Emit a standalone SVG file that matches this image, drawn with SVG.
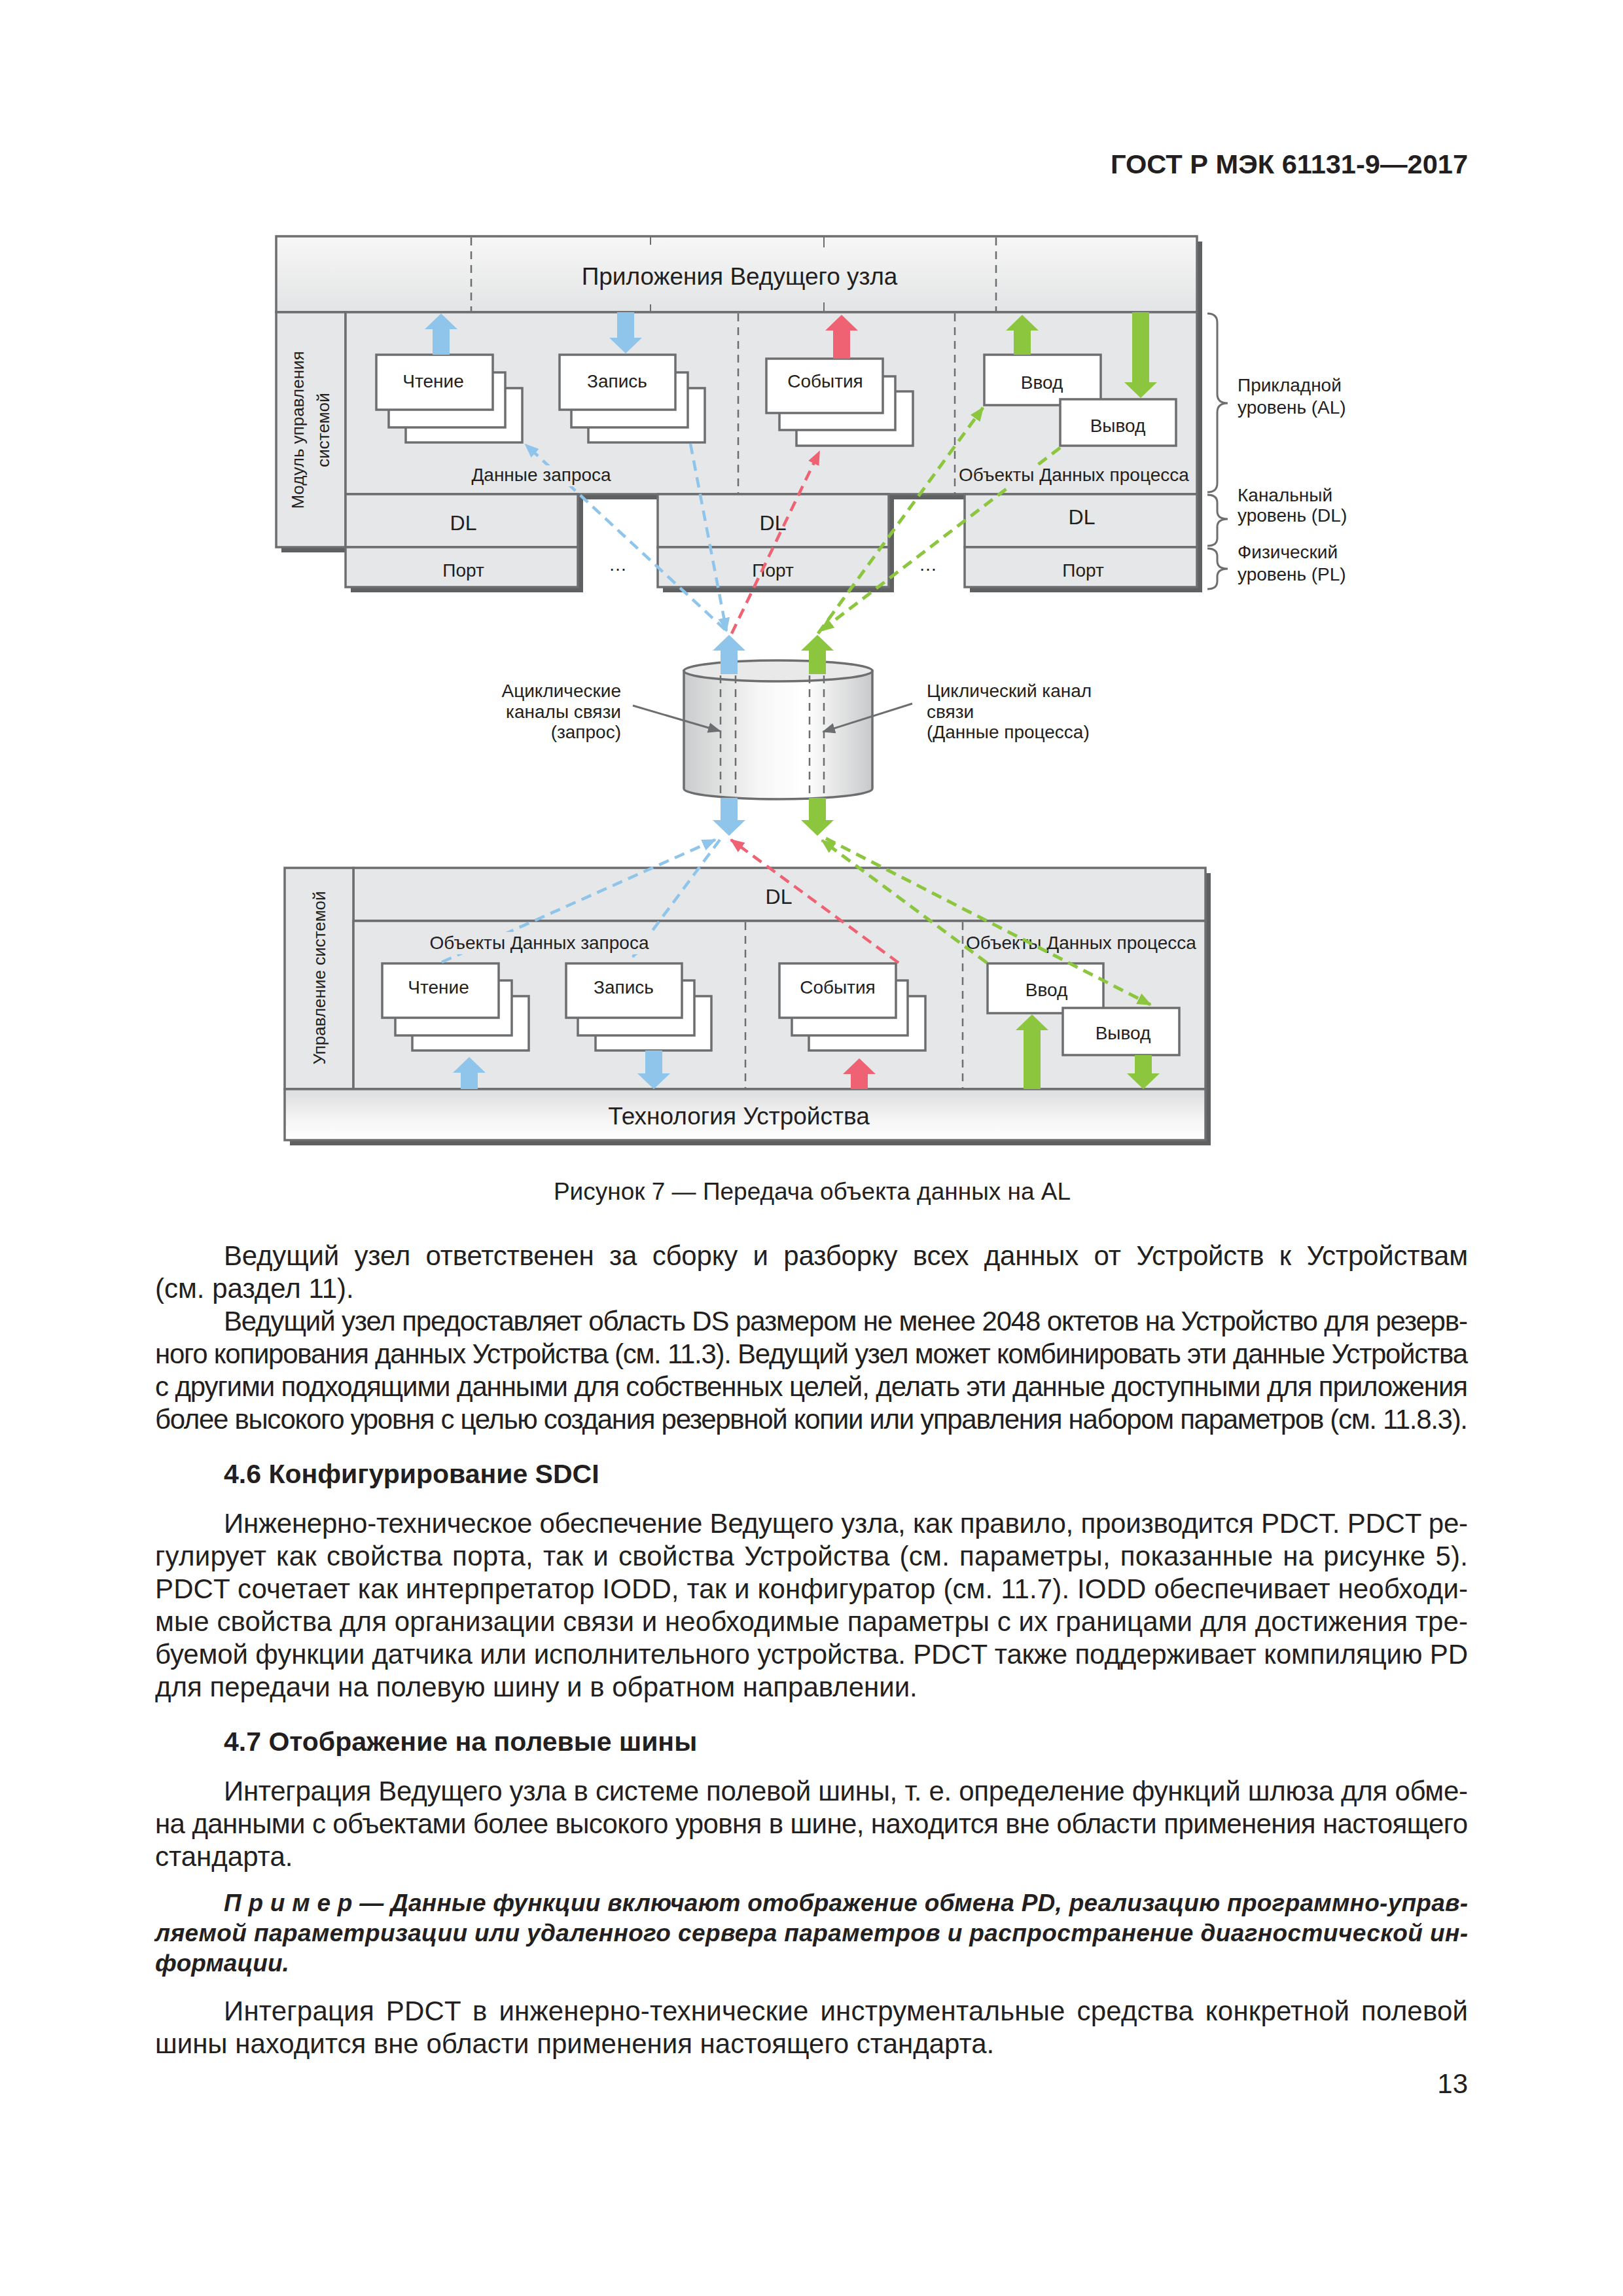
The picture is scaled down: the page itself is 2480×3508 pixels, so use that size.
<svg xmlns="http://www.w3.org/2000/svg" width="2480" height="3508" viewBox="0 0 2480 3508">
<style>
.bg{fill:#ffffff}
.box{fill:#e6e7e8;stroke:#6d6e70;stroke-width:3.5}
.sh{fill:#5f6062}
.card{fill:#ffffff;stroke:#6d6e70;stroke-width:3.5}
.lblbg{fill:#e6e7e8}
.t{font-family:"Liberation Sans",Arial,sans-serif;fill:#231f20}
.d28{font-size:28px}
.d26{font-size:26px}
.d32{font-size:32px}
.d37{font-size:37px}
.mid{text-anchor:middle}
.end{text-anchor:end}
.sep{stroke:#6d6e70;stroke-width:2.5;stroke-dasharray:12 9;fill:none}
.bl{fill:#8fc5ea}
.rd{fill:#ee6273}
.gr{fill:#8cc63f}
.cb{stroke:#8fc5ea;stroke-width:4.5;stroke-dasharray:16 10;fill:none;marker-end:url(#mB)}
.cr{stroke:#ee6273;stroke-width:4.5;stroke-dasharray:16 10;fill:none;marker-end:url(#mR)}
.cg{stroke:#8cc63f;stroke-width:5;stroke-dasharray:16 10;fill:none;marker-end:url(#mG)}
.lead{stroke:#6d6e70;stroke-width:3;fill:none;marker-end:url(#mK)}
.brace{stroke:#6d6e70;stroke-width:3;fill:none}
.body{font-family:"Liberation Sans",Arial,sans-serif;font-size:42px;fill:#231f20}
.note{font-family:"Liberation Sans",Arial,sans-serif;font-size:37px;font-weight:bold;font-style:italic;fill:#231f20}
.hd{font-family:"Liberation Sans",Arial,sans-serif;font-size:41px;font-weight:bold;fill:#231f20}
</style>
<defs>
<linearGradient id="gTop" x1="0" y1="0" x2="0" y2="1"><stop offset="0" stop-color="#f7f7f7"/><stop offset="1" stop-color="#e3e4e5"/></linearGradient>
<linearGradient id="gBot" x1="0" y1="0" x2="0" y2="1"><stop offset="0" stop-color="#dcdddf"/><stop offset="0.6" stop-color="#f5f5f5"/><stop offset="1" stop-color="#ffffff"/></linearGradient>
<linearGradient id="gCyl" x1="0" y1="0" x2="1" y2="0"><stop offset="0" stop-color="#cbcccd"/><stop offset="0.4" stop-color="#f7f7f7"/><stop offset="0.65" stop-color="#ffffff"/><stop offset="1" stop-color="#c8c9ca"/></linearGradient>
<marker id="mB" markerUnits="userSpaceOnUse" markerWidth="22" markerHeight="18" viewBox="0 0 22 18" refX="20" refY="9" orient="auto"><path d="M0,0 L22,9 L0,18 z" fill="#8fc5ea"/></marker>
<marker id="mR" markerUnits="userSpaceOnUse" markerWidth="22" markerHeight="18" viewBox="0 0 22 18" refX="20" refY="9" orient="auto"><path d="M0,0 L22,9 L0,18 z" fill="#ee6273"/></marker>
<marker id="mG" markerUnits="userSpaceOnUse" markerWidth="22" markerHeight="18" viewBox="0 0 22 18" refX="20" refY="9" orient="auto"><path d="M0,0 L22,9 L0,18 z" fill="#8cc63f"/></marker>
<marker id="mK" markerUnits="userSpaceOnUse" markerWidth="20" markerHeight="16" viewBox="0 0 20 16" refX="18" refY="8" orient="auto"><path d="M0,0 L20,8 L0,16 z" fill="#6d6e70"/></marker>
</defs>
<rect class="bg" x="0" y="0" width="2480" height="3508"/>

<text class="t" x="2243" y="265" text-anchor="end" font-size="40" font-weight="bold" textLength="546" lengthAdjust="spacingAndGlyphs">ГОСТ Р МЭК 61131-9—2017</text>

<!-- Master (top) structure -->
<g id="master">
<rect class="sh" x="430" y="369" width="1407" height="116"/>
<rect class="sh" x="430" y="485" width="106" height="359"/>
<rect class="sh" x="536" y="485" width="1301" height="278"/>
<rect class="sh" x="536" y="763" width="355" height="142"/>
<rect class="sh" x="1013" y="763" width="353" height="142"/>
<rect class="sh" x="1482" y="763" width="355" height="142"/>
</g>
<g id="master-apps">
<rect x="422" y="361" width="1407" height="116" fill="url(#gTop)" stroke="#6d6e70" stroke-width="3.5"/>
<line class="sep" x1="720" y1="363" x2="720" y2="476"/>
<line class="sep" x1="1522" y1="363" x2="1522" y2="476"/>
<line stroke="#6d6e70" stroke-width="2" x1="994" y1="362" x2="994" y2="374"/>
<line stroke="#6d6e70" stroke-width="2" x1="994" y1="465" x2="994" y2="476"/>
<line stroke="#6d6e70" stroke-width="2" x1="1259" y1="362" x2="1259" y2="378"/>
<line stroke="#6d6e70" stroke-width="2" x1="1259" y1="462" x2="1259" y2="476"/>
<text class="t d37 mid" x="1130" y="435">Приложения Ведущего узла</text>
</g>
<g id="master-sm">
<rect class="box" x="422" y="477" width="106" height="359"/>
<text class="t d26 mid" transform="translate(464,657) rotate(-90)">Модуль управления</text>
<text class="t d26 mid" transform="translate(503,657) rotate(-90)">системой</text>
</g>
<g id="master-al">
<rect class="box" x="528" y="477" width="1301" height="278"/>
<line class="sep" x1="1128" y1="479" x2="1128" y2="754"/>
<line class="sep" x1="1459" y1="479" x2="1459" y2="754"/>
</g>
<g id="m-read">
<rect class="card" x="620" y="593" width="178" height="83"/>
<rect class="card" x="594" y="569" width="178" height="84"/>
<rect class="card" x="575" y="542" width="178" height="84"/>
<text class="t d28 mid" x="662" y="592">Чтение</text>
</g>
<g id="m-write">
<rect class="card" x="899" y="593" width="178" height="83"/>
<rect class="card" x="873" y="569" width="178" height="84"/>
<rect class="card" x="855" y="542" width="177" height="84"/>
<text class="t d28 mid" x="943" y="592">Запись</text>
</g>
<g id="m-events">
<rect class="card" x="1217" y="598" width="178" height="83"/>
<rect class="card" x="1191" y="575" width="177" height="82"/>
<rect class="card" x="1171" y="548" width="178" height="83"/>
<text class="t d28 mid" x="1261" y="592">События</text>
</g>
<g id="m-in">
<rect class="card" x="1504" y="542" width="178" height="77"/>
<text class="t d28 mid" x="1592" y="594">Ввод</text>
</g>
<g id="m-out">
<rect class="card" x="1620" y="610" width="177" height="71"/>
<text class="t d28 mid" x="1708" y="660">Вывод</text>
</g>
<g id="m-port1">
<rect class="box" x="528" y="755" width="355" height="81"/>
<rect class="box" x="528" y="836" width="355" height="61"/>
<text class="t d32 mid" x="708" y="810">DL</text>
<text class="t d28 mid" x="708" y="881">Порт</text>
</g>
<g id="m-port2">
<rect class="box" x="1005" y="755" width="353" height="81"/>
<rect class="box" x="1005" y="836" width="353" height="61"/>
<text class="t d32 mid" x="1181" y="810">DL</text>
<text class="t d28 mid" x="1181" y="881">Порт</text>
</g>
<g id="m-port3">
<rect class="box" x="1474" y="755" width="355" height="81"/>
<rect class="box" x="1474" y="836" width="355" height="61"/>
<text class="t d32 mid" x="1653" y="801">DL</text>
<text class="t d28 mid" x="1655" y="881">Порт</text>
</g>
<text class="t d28 mid" x="944" y="872">…</text>
<text class="t d28 mid" x="1418" y="872">…</text>

<g id="layers">
<path class="brace" d="M1845,479 Q1860,479 1860,493 L1860,602 Q1860,616 1876,616 Q1860,616 1860,630 L1860,738 Q1860,752 1845,752"/>
<path class="brace" d="M1845,756 Q1860,756 1860,768 L1860,781 Q1860,793 1876,793 Q1860,793 1860,805 L1860,822 Q1860,834 1845,834"/>
<path class="brace" d="M1845,838 Q1860,838 1860,850 L1860,857 Q1860,869 1876,869 Q1860,869 1860,881 L1860,888 Q1860,900 1845,900"/>
<text class="t d28" x="1891" y="598">Прикладной</text>
<text class="t d28" x="1891" y="632">уровень (AL)</text>
<text class="t d28" x="1891" y="766">Канальный</text>
<text class="t d28" x="1891" y="797">уровень (DL)</text>
<text class="t d28" x="1891" y="853">Физический</text>
<text class="t d28" x="1891" y="887">уровень (PL)</text>
</g>

<!-- Cylinder -->
<g id="channel">
<path d="M1045,1025 L1045,1205 A144,16 0 0 0 1333,1205 L1333,1025 Z" fill="url(#gCyl)" stroke="#6d6e70" stroke-width="3.5"/>
<ellipse cx="1189" cy="1025" rx="144" ry="16" fill="#e9e9ea" stroke="#6d6e70" stroke-width="3.5"/>
<line class="sep" x1="1101" y1="1032" x2="1101" y2="1218"/>
<line class="sep" x1="1124" y1="1032" x2="1124" y2="1218"/>
<line class="sep" x1="1237" y1="1032" x2="1237" y2="1218"/>
<line class="sep" x1="1259" y1="1032" x2="1259" y2="1218"/>
</g>
<g id="lbl-acyc">
<text class="t d28 end" x="949" y="1065">Ациклические</text>
<text class="t d28 end" x="949" y="1097">каналы связи</text>
<text class="t d28 end" x="949" y="1128">(запрос)</text>
</g>
<g id="lbl-cyc">
<text class="t d28" x="1416" y="1065">Циклический канал</text>
<text class="t d28" x="1416" y="1097">связи</text>
<text class="t d28" x="1416" y="1128">(Данные процесса)</text>
</g>

<!-- Device (bottom) structure -->
<g id="device">
<rect class="sh" x="443" y="1334" width="1407" height="416"/>
<rect class="box" x="540" y="1326" width="1302" height="81"/>
<text class="t d32 mid" x="1190" y="1381">DL</text>
</g>
<g id="device-sm">
<rect class="box" x="435" y="1326" width="105" height="338"/>
<text class="t d26 mid" transform="translate(497,1494) rotate(-90)">Управление системой</text>
</g>
<g id="device-al">
<rect class="box" x="540" y="1407" width="1302" height="257"/>
<line class="sep" x1="1139" y1="1409" x2="1139" y2="1663"/>
<line class="sep" x1="1471" y1="1409" x2="1471" y2="1663"/>
<text class="t d28" x="1476" y="1450">Объекты Данных процесса</text>
</g>
<g id="device-tech">
<rect x="435" y="1664" width="1407" height="78" fill="url(#gBot)" stroke="#6d6e70" stroke-width="3.5"/>
<text class="t d37 mid" x="1129" y="1718">Технология Устройства</text>
</g>
<g id="d-read">
<rect class="card" x="630" y="1522" width="178" height="83"/>
<rect class="card" x="604" y="1498" width="178" height="84"/>
<rect class="card" x="584" y="1472" width="178" height="83"/>
<text class="t d28 mid" x="670" y="1518">Чтение</text>
</g>
<g id="d-write">
<rect class="card" x="910" y="1522" width="177" height="83"/>
<rect class="card" x="883" y="1498" width="178" height="84"/>
<rect class="card" x="865" y="1472" width="177" height="83"/>
<text class="t d28 mid" x="953" y="1518">Запись</text>
</g>
<g id="d-events">
<rect class="card" x="1236" y="1522" width="178" height="83"/>
<rect class="card" x="1210" y="1498" width="177" height="84"/>
<rect class="card" x="1191" y="1472" width="178" height="83"/>
<text class="t d28 mid" x="1280" y="1518">События</text>
</g>
<g id="d-in">
<rect class="card" x="1509" y="1472" width="177" height="76"/>
<text class="t d28 mid" x="1599" y="1522">Ввод</text>
</g>
<g id="d-out">
<rect class="card" x="1624" y="1540" width="178" height="72"/>
<text class="t d28 mid" x="1716" y="1588">Вывод</text>
</g>

<!-- Connectors -->
<g id="connectors">
<polygon class="bl" points="674,479 699,503 687,503 687,542 661,542 661,503 649,503"/>
<polygon class="bl" points="956,540 981,516 969,516 969,477 943,477 943,516 931,516"/>
<polygon class="rd" points="1286,481 1311,505 1299,505 1299,548 1273,548 1273,505 1261,505"/>
<polygon class="gr" points="1562,481 1587,505 1575,505 1575,542 1549,542 1549,505 1537,505"/>
<polygon class="gr" points="1743,608 1768,584 1756,584 1756,477 1730,477 1730,584 1718,584"/>
<polygon class="bl" points="1114,970 1139,994 1127,994 1127,1030 1101,1030 1101,994 1089,994"/>
<polygon class="bl" points="1114,1277 1139,1253 1127,1253 1127,1219 1101,1219 1101,1253 1089,1253"/>
<polygon class="gr" points="1249,970 1274,994 1262,994 1262,1030 1236,1030 1236,994 1224,994"/>
<polygon class="gr" points="1249,1277 1274,1253 1262,1253 1262,1219 1236,1219 1236,1253 1224,1253"/>
<polygon class="bl" points="717,1615 742,1639 730,1639 730,1664 704,1664 704,1639 692,1639"/>
<polygon class="bl" points="999,1664 1024,1640 1012,1640 1012,1605 986,1605 986,1640 974,1640"/>
<polygon class="rd" points="1313,1617 1338,1641 1326,1641 1326,1664 1300,1664 1300,1641 1288,1641"/>
<polygon class="gr" points="1577,1550 1602,1574 1590,1574 1590,1664 1564,1664 1564,1574 1552,1574"/>
<polygon class="gr" points="1747,1664 1772,1640 1760,1640 1760,1612 1734,1612 1734,1640 1722,1640"/>
<line class="cb" x1="1108" y1="962" x2="803" y2="679"/>
<line class="cb" x1="1055" y1="678" x2="1110" y2="964"/>
<line class="cr" x1="1118" y1="968" x2="1252" y2="690"/>
<line class="cg" x1="1250" y1="968" x2="1502" y2="623"/>
<line class="cg" x1="1620" y1="684" x2="1254" y2="964"/>
<line class="cb" x1="675" y1="1470" x2="1093" y2="1283"/>
<line class="cb" x1="1100" y1="1283" x2="967" y2="1462"/>
<line class="cr" x1="1373" y1="1471" x2="1117" y2="1283"/>
<line class="cg" x1="1508" y1="1471" x2="1256" y2="1284"/>
<line class="cg" x1="1262" y1="1281" x2="1758" y2="1535"/>
<line class="lead" x1="967" y1="1078" x2="1100" y2="1117"/>
<line class="lead" x1="1394" y1="1075" x2="1258" y2="1118"/>
</g>

<g id="lbl-req-top">
<rect class="lblbg" x="718" y="711" width="220" height="32"/>
<text class="t d28 mid" x="827" y="735">Данные запроса</text>
</g>
<g id="lbl-pd-top">
<rect class="lblbg" x="1463" y="711" width="362" height="32"/>
<text class="t d28" x="1465" y="735">Объекты Данных процесса</text>
</g>
<g id="lbl-req-bot">
<rect class="lblbg" x="651" y="1424" width="346" height="34"/>
<text class="t d28 mid" x="824" y="1450">Объекты Данных запроса</text>
</g>

<text class="t mid" x="1241" y="1833" font-size="37">Рисунок 7 — Передача объекта данных на AL</text>

<g id="body-text">
<text class="body" x="342" y="1933" word-spacing="12" textLength="1901" lengthAdjust="spacing">Ведущий узел ответственен за сборку и разборку всех данных от Устройств к Устройствам</text>
<text class="body" x="237" y="1983">(см. раздел 11).</text>
<text class="body" x="342" y="2033" textLength="1901" lengthAdjust="spacing">Ведущий узел предоставляет область DS размером не менее 2048 октетов на Устройство для резерв-</text>
<text class="body" x="237" y="2083" textLength="2006" lengthAdjust="spacing">ного копирования данных Устройства (см. 11.3). Ведущий узел может комбинировать эти данные Устройства</text>
<text class="body" x="237" y="2133" textLength="2006" lengthAdjust="spacing">с другими подходящими данными для собственных целей, делать эти данные доступными для приложения</text>
<text class="body" x="237" y="2183" textLength="2006" lengthAdjust="spacing">более высокого уровня с целью создания резервной копии или управления набором параметров (см. 11.8.3).</text>
<text class="hd" x="342" y="2266">4.6 Конфигурирование SDCI</text>
<text class="body" x="342" y="2342" textLength="1901" lengthAdjust="spacing">Инженерно-техническое обеспечение Ведущего узла, как правило, производится PDCT. PDCT ре-</text>
<text class="body" x="237" y="2392" word-spacing="3" textLength="2006" lengthAdjust="spacing">гулирует как свойства порта, так и свойства Устройства (см. параметры, показанные на рисунке 5).</text>
<text class="body" x="237" y="2442" textLength="2006" lengthAdjust="spacing">PDCT сочетает как интерпретатор IODD, так и конфигуратор (см. 11.7). IODD обеспечивает необходи-</text>
<text class="body" x="237" y="2492" textLength="2006" lengthAdjust="spacing">мые свойства для организации связи и необходимые параметры с их границами для достижения тре-</text>
<text class="body" x="237" y="2542" textLength="2006" lengthAdjust="spacing">буемой функции датчика или исполнительного устройства. PDCT также поддерживает компиляцию PD</text>
<text class="body" x="237" y="2592">для передачи на полевую шину и в обратном направлении.</text>
<text class="hd" x="342" y="2675">4.7 Отображение на полевые шины</text>
<text class="body" x="342" y="2751" textLength="1901" lengthAdjust="spacing">Интеграция Ведущего узла в системе полевой шины, т. е. определение функций шлюза для обме-</text>
<text class="body" x="237" y="2801" textLength="2006" lengthAdjust="spacing">на данными с объектами более высокого уровня в шине, находится вне области применения настоящего</text>
<text class="body" x="237" y="2851">стандарта.</text>
<text class="note" x="342" y="2920" textLength="1901" lengthAdjust="spacing">П р и м е р — Данные функции включают отображение обмена PD, реализацию программно-управ-</text>
<text class="note" x="237" y="2966" textLength="2006" lengthAdjust="spacing">ляемой параметризации или удаленного сервера параметров и распространение диагностической ин-</text>
<text class="note" x="237" y="3012">формации.</text>
<text class="body" x="342" y="3087" word-spacing="6" textLength="1901" lengthAdjust="spacing">Интеграция PDCT в инженерно-технические инструментальные средства конкретной полевой</text>
<text class="body" x="237" y="3137">шины находится вне области применения настоящего стандарта.</text>
<text class="body" x="2243" y="3198" text-anchor="end">13</text>
</g>
</svg>
